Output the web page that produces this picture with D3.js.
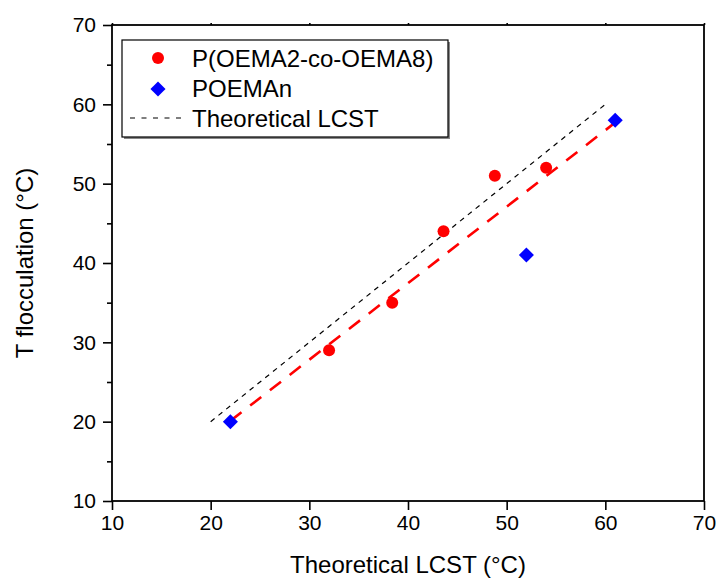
<!DOCTYPE html>
<html>
<head>
<meta charset="utf-8">
<script src="https://cdn.jsdelivr.net/npm/d3@7"></script>
<style>
  body { margin: 0; background: #fff; }
  text { font-family: "Liberation Sans", Arial, sans-serif; fill: #000; }
</style>
</head>
<body>
<svg id="chart" width="720" height="581"></svg>
<script>
// data
const copolyX = [32, 38.4, 43.6, 48.8, 54];
const copolyY = [29, 35, 44, 51, 52];
const homoX = [22, 52, 61];
const homoY = [20, 41, 58];
const theoryX = [20, 60];
const theoryY = [20, 60];
const fitX = [22, 61];
const fitY = [20.1, 57.7];
const xTicks = [10, 20, 30, 40, 50, 60, 70];
const yTicks = [10, 20, 30, 40, 50, 60, 70];
const yMinor = [15, 25, 35, 45, 55, 65];
const legendLabels = ["P(OEMA2-co-OEMA8)", "POEMAn", "Theoretical LCST"];

const svg = d3.select("#chart");
const padLeft = 112, padRight = 704, padTop = 25, padBottom = 501;

const x = d3.scaleLinear().domain([10, 70]).range([padLeft, padRight]);
const y = d3.scaleLinear().domain([10, 70]).range([padBottom, padTop]);

// axes
const xAxis = d3.axisBottom(x).tickValues(xTicks).tickSize(9).tickPadding(5).tickFormat(d3.format("d"));
svg.append("g").attr("transform", "translate(0," + padBottom + ")").call(xAxis);

const yAxis = d3.axisLeft(y).tickValues(yTicks).tickSize(9).tickPadding(7).tickFormat(d3.format("d"));
svg.append("g").attr("transform", "translate(" + padLeft + ",0)").call(yAxis);

// minor y ticks
svg.append("g").attr("transform", "translate(" + padLeft + ",0)")
  .call(d3.axisLeft(y).tickValues(yMinor).tickSize(5).tickFormat(""));

// top ticks, very short
svg.append("g").attr("transform", "translate(0," + padTop + ")")
  .call(d3.axisTop(x).tickValues(xTicks).tickSize(2).tickFormat(""));

svg.selectAll(".domain").remove();
svg.selectAll(".tick line").attr("stroke", "#000").attr("stroke-width", 1.6);
svg.selectAll(".tick text").style("font-size", "21px").style("font-family", "'Liberation Sans', Arial, sans-serif");

// frame
svg.append("rect")
  .attr("x", padLeft).attr("y", padTop)
  .attr("width", padRight - padLeft).attr("height", padBottom - padTop)
  .attr("fill", "none").attr("stroke", "#000").attr("stroke-width", 1.8);

// axis titles
svg.append("text")
  .attr("x", (padLeft + padRight) / 2).attr("y", 573)
  .attr("text-anchor", "middle").style("font-size", "24px")
  .text("Theoretical LCST (°C)");

svg.append("text")
  .attr("transform", "translate(33," + ((padTop + padBottom) / 2) + ") rotate(-90)")
  .attr("text-anchor", "middle").style("font-size", "24px")
  .text("T flocculation (°C)");

// lines
const line = d3.line().x(d => x(d[0])).y(d => y(d[1]));

svg.append("path")
  .attr("d", line(theoryX.map((v, i) => [v, theoryY[i]])))
  .attr("fill", "none").attr("stroke", "#000").attr("stroke-width", 1.2)
  .attr("stroke-dasharray", "5,5");

svg.append("path")
  .attr("d", line(fitX.map((v, i) => [v, fitY[i]])))
  .attr("fill", "none").attr("stroke", "#ff0000").attr("stroke-width", 2.6)
  .attr("stroke-dasharray", "14,11");

// points
svg.selectAll(".copoly")
  .data(copolyX.map((v, i) => [v, copolyY[i]]))
  .enter().append("circle")
  .attr("class", "copoly")
  .attr("cx", d => x(d[0])).attr("cy", d => y(d[1]))
  .attr("r", 6).attr("fill", "#ff0000");

const diamond = d3.symbol().type(d3.symbolDiamond2).size(145);
svg.selectAll(".homo")
  .data(homoX.map((v, i) => [v, homoY[i]]))
  .enter().append("path")
  .attr("class", "homo")
  .attr("transform", d => "translate(" + x(d[0]) + "," + y(d[1]) + ")")
  .attr("d", diamond).attr("fill", "#0000ff");

// legend
const lg = svg.append("g");
lg.append("rect").attr("x", 124).attr("y", 42).attr("width", 326).attr("height", 97).attr("fill", "#888");
lg.append("rect").attr("x", 122).attr("y", 40).attr("width", 326).attr("height", 97)
  .attr("fill", "#fff").attr("stroke", "#000").attr("stroke-width", 1.2);

lg.append("circle").attr("cx", 158).attr("cy", 58).attr("r", 6).attr("fill", "#ff0000");
lg.append("path").attr("transform", "translate(158,89)").attr("d", diamond).attr("fill", "#0000ff");
lg.append("line").attr("x1", 130).attr("x2", 183).attr("y1", 118).attr("y2", 118)
  .attr("stroke", "#000").attr("stroke-width", 1.2).attr("stroke-dasharray", "5,6.5");

lg.selectAll(".ltext")
  .data(legendLabels)
  .enter().append("text")
  .attr("class", "ltext")
  .attr("x", 192).attr("y", (d, i) => 67 + i * 30)
  .style("font-size", "24px")
  .text(d => d);
</script>
</body>
</html>
